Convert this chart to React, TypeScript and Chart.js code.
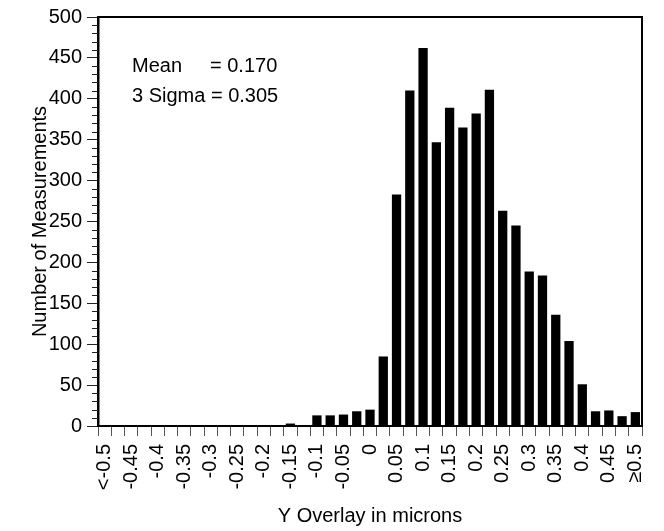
import React, { useEffect, useRef } from "react";
import { Chart, registerables } from "chart.js";

Chart.register(...registerables);

const categories = [
  "<-0.5", "-0.475", "-0.45", "-0.425", "-0.4", "-0.375", "-0.35", "-0.325", "-0.3", "-0.275",
  "-0.25", "-0.225", "-0.2", "-0.175", "-0.15", "-0.125", "-0.1", "-0.075", "-0.05", "-0.025",
  "0", "0.025", "0.05", "0.075", "0.1", "0.125", "0.15", "0.175", "0.2", "0.225",
  "0.25", "0.275", "0.3", "0.325", "0.35", "0.375", "0.4", "0.425", "0.45", "0.475", "≥0.5",
];

const counts = [
  0, 0, 0, 0, 0, 0, 0, 0, 0, 0,
  0, 0, 0, 0, 3, 1, 13, 13, 14, 18,
  20, 85, 283, 410, 462, 347, 389, 365, 382, 411,
  263, 245, 189, 184, 136, 104, 51, 18, 19, 12, 17,
];

const yMax = 500;
const yMajorStep = 50;
const yMinorStep = 10;

const statLines = [
  { label: "Mean", value: "= 0.170" },
  { label: "3 Sigma = 0.305", value: "" },
];

const FONT = "'Liberation Sans', Arial, Helvetica, sans-serif";

const framePlugin = {
  id: "frame",
  afterDraw(chart: any) {
    const { ctx, chartArea, scales } = chart;
    const y = scales.y;
    ctx.save();
    ctx.strokeStyle = "#000";
    ctx.lineWidth = 2;
    ctx.beginPath();
    ctx.moveTo(chartArea.left, chartArea.top);
    ctx.lineTo(chartArea.right, chartArea.top);
    ctx.lineTo(chartArea.right, chartArea.bottom);
    ctx.stroke();
    ctx.lineWidth = 1;
    ctx.strokeStyle = "#222";
    for (let v = 0; v <= yMax; v += yMinorStep) {
      if (v % yMajorStep === 0) continue;
      const py = Math.round(y.getPixelForValue(v)) + 0.5;
      ctx.beginPath();
      ctx.moveTo(chartArea.left - 6, py);
      ctx.lineTo(chartArea.left, py);
      ctx.stroke();
    }
    ctx.fillStyle = "#000";
    ctx.font = `20px ${FONT}`;
    ctx.textBaseline = "alphabetic";
    ctx.textAlign = "left";
    const x0 = chartArea.left + 34;
    const baseY = chartArea.top + 55;
    statLines.forEach((ln, i) => {
      const by = baseY + i * 30;
      ctx.fillText(ln.label, x0, by);
      if (ln.value) ctx.fillText(ln.value, x0 + 78, by);
    });
    ctx.restore();
  },
};

export default function App() {
  const ref = useRef<HTMLCanvasElement | null>(null);
  useEffect(() => {
    if (!ref.current) return;
    Chart.defaults.font.family = FONT;
    Chart.defaults.font.size = 20;
    Chart.defaults.color = "#000";
    const chart = new Chart(ref.current, {
      type: "bar",
      data: {
        labels: categories,
        datasets: [
          {
            data: counts,
            backgroundColor: "#000",
            borderWidth: 0,
            categoryPercentage: 1,
            barPercentage: 0.7,
          },
        ],
      },
      options: {
        animation: false,
        responsive: false,
        devicePixelRatio: 1,
        layout: { padding: { top: 17, right: 22, left: 0, bottom: 0 } },
        plugins: { legend: { display: false }, tooltip: { enabled: false } },
        scales: {
          x: {
            offset: true,
            grid: {
              display: true,
              drawOnChartArea: false,
              offset: true,
              tickLength: 10,
              tickColor: "#555",
              tickWidth: 1,
            },
            border: { display: true, color: "#000", width: 2 },
            ticks: {
              autoSkip: false,
              minRotation: 90,
              maxRotation: 90,
              padding: 8,
              font: { size: 20 },
              callback: (_v: any, i: number) => (i % 2 === 0 ? categories[i] : ""),
            },
            title: {
              display: true,
              text: "Y Overlay in microns",
              font: { size: 20 },
              padding: { top: 0, bottom: 3 },
            },
            afterFit: (s: any) => {
              s.height = 105;
              s.paddingLeft = 0;
              s.paddingRight = 0;
            },
          },
          y: {
            min: 0,
            max: yMax,
            grid: {
              display: true,
              drawOnChartArea: false,
              tickLength: 11,
              tickColor: "#222",
              tickWidth: 1,
            },
            border: { display: true, color: "#000", width: 2.5 },
            ticks: { stepSize: yMajorStep, padding: 5, font: { size: 20 } },
            title: {
              display: true,
              text: "Number of Measurements",
              font: { size: 20 },
              padding: { top: 28, bottom: 0 },
            },
            afterFit: (s: any) => {
              s.width = 98;
              s.paddingTop = 0;
              s.paddingBottom = 0;
            },
          },
        },
      },
      plugins: [framePlugin],
    });
    return () => chart.destroy();
  }, []);
  return (
    <div style={{ position: "fixed", left: 0, top: 0, width: 664, height: 531, background: "#fff" }}>
      <canvas ref={ref} width={664} height={531} style={{ width: 664, height: 531 }} />
    </div>
  );
}
